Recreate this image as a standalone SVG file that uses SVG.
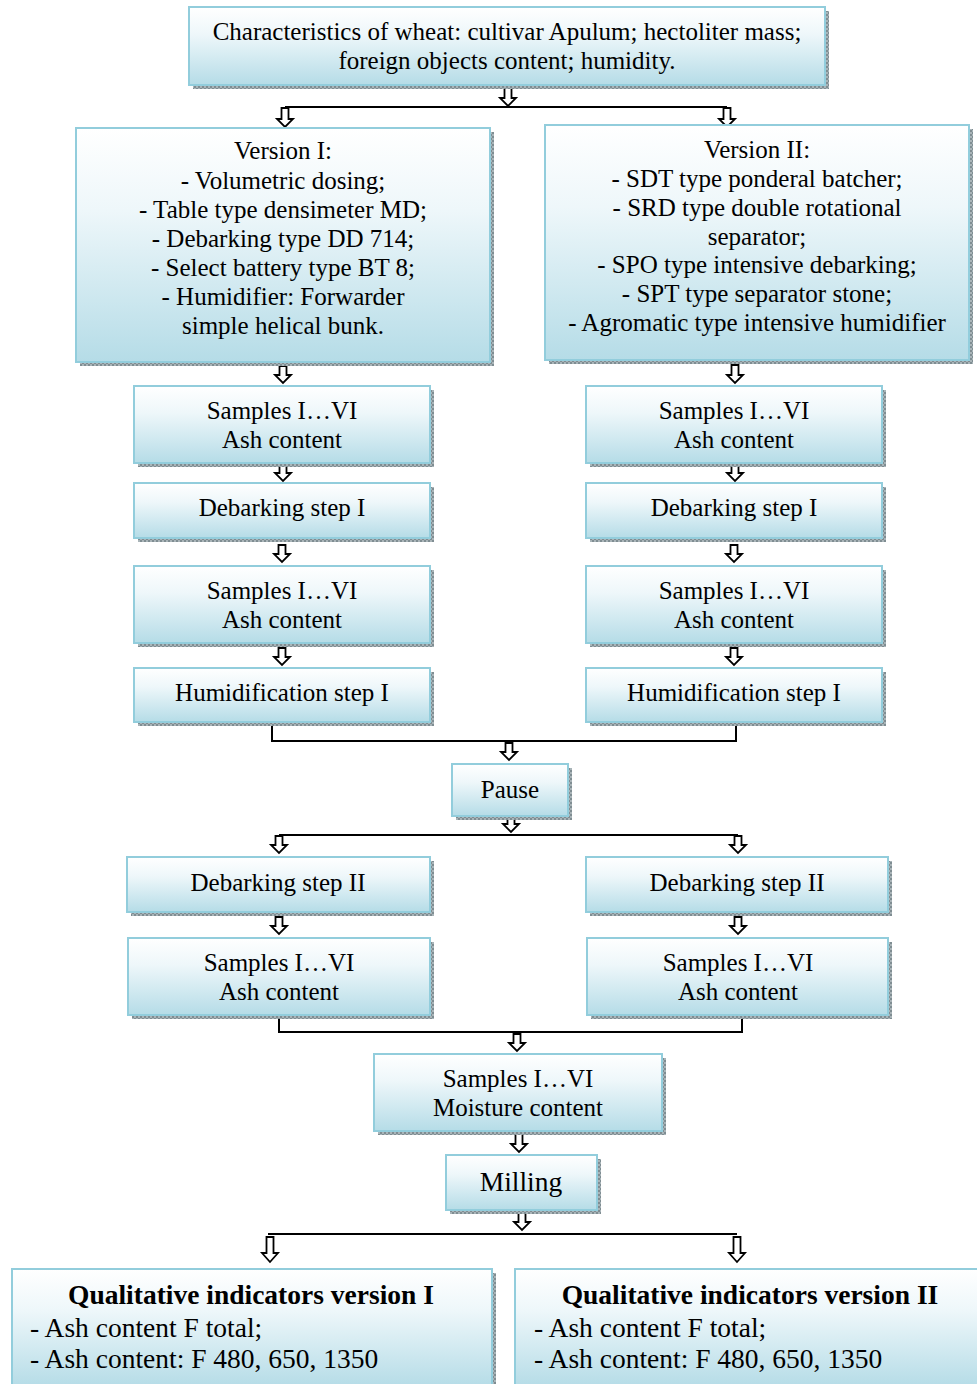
<svg xmlns="http://www.w3.org/2000/svg" width="977" height="1384" viewBox="0 0 977 1384">
<defs>
<linearGradient id="g" x1="0" y1="0" x2="0" y2="1">
<stop offset="0" stop-color="#ffffff"/>
<stop offset="0.35" stop-color="#eef7fa"/>
<stop offset="1" stop-color="#b5dce7"/>
</linearGradient>
<pattern id="sh" width="4" height="4" patternUnits="userSpaceOnUse">
<rect width="4" height="4" fill="#a9b4b8"/>
<rect width="2" height="2" fill="#7f8d92"/>
<rect x="2" y="2" width="2" height="2" fill="#7f8d92"/>
</pattern>
</defs>
<style>
.box{fill:url(#g);stroke:#92cddc;stroke-width:2}
.shadow{fill:url(#sh)}
text{font-family:"Liberation Serif","Times New Roman",serif;font-size:25px;fill:#000}
.c{text-anchor:middle}
.b{font-weight:bold;font-size:27.5px}
.l{font-size:27.5px}
.line{fill:none;stroke:#000;stroke-width:2}
.arr{fill:#fff;stroke:#000;stroke-width:1.8;stroke-linejoin:miter}
</style>
<rect width="977" height="1384" fill="#fff"/>

<g id="connectors">
<polyline class="line" points="285,107 727,107"/>
<polyline class="line" points="272,722 272,741 736,741 736,722"/>
<polyline class="line" points="279,835 738,835"/>
<polyline class="line" points="279,1015 279,1032 742,1032 742,1015"/>
<polyline class="line" points="268,1234 737,1234"/>
<path class="arr" d="M504.5 87h7v11h4.5l-8 8l-8-8h4.5z"/>
<path class="arr" d="M281.5 108h7v11h4.5l-8 8l-8-8h4.5z"/>
<path class="arr" d="M723.5 108h7v11h4.5l-8 8l-8-8h4.5z"/>
<path class="arr" d="M279.5 366h7v9h4.5l-8 8l-8-8h4.5z"/>
<path class="arr" d="M731.5 365h7v10h4.5l-8 8l-8-8h4.5z"/>
<path class="arr" d="M279.5 465h7v8h4.5l-8 8l-8-8h4.5z"/>
<path class="arr" d="M731.5 465h7v8h4.5l-8 8l-8-8h4.5z"/>
<path class="arr" d="M278.5 545h7v9h4.5l-8 8l-8-8h4.5z"/>
<path class="arr" d="M730.5 545h7v9h4.5l-8 8l-8-8h4.5z"/>
<path class="arr" d="M278.5 648h7v9h4.5l-8 8l-8-8h4.5z"/>
<path class="arr" d="M730.5 648h7v9h4.5l-8 8l-8-8h4.5z"/>
<path class="arr" d="M505.5 743h7v9h4.5l-8 8l-8-8h4.5z"/>
<path class="arr" d="M507.5 814h7v10h4.5l-8 8l-8-8h4.5z"/>
<path class="arr" d="M275.5 836h7v9h4.5l-8 8l-8-8h4.5z"/>
<path class="arr" d="M734.5 836h7v9h4.5l-8 8l-8-8h4.5z"/>
<path class="arr" d="M275.5 917h7v9h4.5l-8 8l-8-8h4.5z"/>
<path class="arr" d="M734.5 917h7v9h4.5l-8 8l-8-8h4.5z"/>
<path class="arr" d="M513.5 1034h7v9h4.5l-8 8l-8-8h4.5z"/>
<path class="arr" d="M515.5 1134h7v10h4.5l-8 8l-8-8h4.5z"/>
<path class="arr" d="M518.5 1213h7v9h4.5l-8 8l-8-8h4.5z"/>
<path class="arr" d="M266.5 1237h7v16h4.5l-8 9l-8-9h4.5z"/>
<path class="arr" d="M733.5 1237h7v16h4.5l-8 9l-8-9h4.5z"/>
</g>

<g id="n-top">
<rect class="shadow" x="193" y="11" width="636" height="78"/>
<rect class="box" x="189" y="7" width="636" height="78"/>
<text class="c" x="507" y="40">Characteristics of wheat: cultivar Apulum; hectoliter mass;</text>
<text class="c" x="507" y="69">foreign objects content; humidity.</text>
</g>

<g id="n-v1">
<rect class="shadow" x="80" y="132" width="414" height="234"/>
<rect class="box" x="76" y="128" width="414" height="234"/>
<text class="c" x="283" y="159">Version I:</text>
<text class="c" x="283" y="189">- Volumetric dosing;</text>
<text class="c" x="283" y="218">- Table type densimeter MD;</text>
<text class="c" x="283" y="247">- Debarking type DD 714;</text>
<text class="c" x="283" y="276">- Select battery type BT 8;</text>
<text class="c" x="283" y="305">- Humidifier: Forwarder</text>
<text class="c" x="283" y="334">simple helical bunk.</text>
</g>

<g id="n-v2">
<rect class="shadow" x="549" y="129" width="424" height="235"/>
<rect class="box" x="545" y="125" width="424" height="235"/>
<text class="c" x="757" y="158">Version II:</text>
<text class="c" x="757" y="187">- SDT type ponderal batcher;</text>
<text class="c" x="757" y="216">- SRD type double rotational</text>
<text class="c" x="757" y="245">separator;</text>
<text class="c" x="757" y="273">- SPO type intensive debarking;</text>
<text class="c" x="757" y="302">- SPT type separator stone;</text>
<text class="c" x="757" y="331">- Agromatic type intensive humidifier</text>
</g>

<g id="n-s1l">
<rect class="shadow" x="138" y="390" width="296" height="77"/>
<rect class="box" x="134" y="386" width="296" height="77"/>
<text class="c" x="282" y="419">Samples I…VI</text>
<text class="c" x="282" y="448">Ash content</text>
</g>
<g id="n-s1r">
<rect class="shadow" x="590" y="390" width="296" height="77"/>
<rect class="box" x="586" y="386" width="296" height="77"/>
<text class="c" x="734" y="419">Samples I…VI</text>
<text class="c" x="734" y="448">Ash content</text>
</g>

<g id="n-d1l">
<rect class="shadow" x="138" y="487" width="296" height="55"/>
<rect class="box" x="134" y="483" width="296" height="55"/>
<text class="c" x="282" y="516">Debarking step I</text>
</g>
<g id="n-d1r">
<rect class="shadow" x="590" y="487" width="296" height="55"/>
<rect class="box" x="586" y="483" width="296" height="55"/>
<text class="c" x="734" y="516">Debarking step I</text>
</g>

<g id="n-s2l">
<rect class="shadow" x="138" y="570" width="296" height="77"/>
<rect class="box" x="134" y="566" width="296" height="77"/>
<text class="c" x="282" y="599">Samples I…VI</text>
<text class="c" x="282" y="628">Ash content</text>
</g>
<g id="n-s2r">
<rect class="shadow" x="590" y="570" width="296" height="77"/>
<rect class="box" x="586" y="566" width="296" height="77"/>
<text class="c" x="734" y="599">Samples I…VI</text>
<text class="c" x="734" y="628">Ash content</text>
</g>

<g id="n-h1l">
<rect class="shadow" x="138" y="672" width="296" height="54"/>
<rect class="box" x="134" y="668" width="296" height="54"/>
<text class="c" x="282" y="701">Humidification step I</text>
</g>
<g id="n-h1r">
<rect class="shadow" x="590" y="672" width="296" height="54"/>
<rect class="box" x="586" y="668" width="296" height="54"/>
<text class="c" x="734" y="701">Humidification step I</text>
</g>

<g id="n-pause">
<rect class="shadow" x="456" y="768" width="116" height="52"/>
<rect class="box" x="452" y="764" width="116" height="52"/>
<text class="c" x="510" y="798">Pause</text>
</g>

<g id="n-d2l">
<rect class="shadow" x="131" y="861" width="303" height="55"/>
<rect class="box" x="127" y="857" width="303" height="55"/>
<text class="c" x="278" y="891">Debarking step II</text>
</g>
<g id="n-d2r">
<rect class="shadow" x="590" y="861" width="302" height="55"/>
<rect class="box" x="586" y="857" width="302" height="55"/>
<text class="c" x="737" y="891">Debarking step II</text>
</g>

<g id="n-s3l">
<rect class="shadow" x="132" y="942" width="302" height="77"/>
<rect class="box" x="128" y="938" width="302" height="77"/>
<text class="c" x="279" y="971">Samples I…VI</text>
<text class="c" x="279" y="1000">Ash content</text>
</g>
<g id="n-s3r">
<rect class="shadow" x="591" y="942" width="301" height="77"/>
<rect class="box" x="587" y="938" width="301" height="77"/>
<text class="c" x="738" y="971">Samples I…VI</text>
<text class="c" x="738" y="1000">Ash content</text>
</g>

<g id="n-moist">
<rect class="shadow" x="378" y="1058" width="288" height="77"/>
<rect class="box" x="374" y="1054" width="288" height="77"/>
<text class="c" x="518" y="1087">Samples I…VI</text>
<text class="c" x="518" y="1116">Moisture content</text>
</g>

<g id="n-mill">
<rect class="shadow" x="450" y="1159" width="151" height="55"/>
<rect class="box" x="446" y="1155" width="151" height="55"/>
<text class="c l" x="521" y="1191">Milling</text>
</g>

<g id="n-q1">
<rect class="shadow" x="16" y="1273" width="480" height="115"/>
<rect class="box" x="12" y="1269" width="480" height="118"/>
<text class="c b" x="251" y="1304">Qualitative indicators version I</text>
<text class="l" x="30" y="1337">- Ash content F total;</text>
<text class="l" x="30" y="1368">- Ash content: F 480, 650, 1350</text>
</g>

<g id="n-q2">
<rect class="box" x="515" y="1269" width="470" height="118"/>
<text class="c b" x="750" y="1304">Qualitative indicators version II</text>
<text class="l" x="534" y="1337">- Ash content F total;</text>
<text class="l" x="534" y="1368">- Ash content: F 480, 650, 1350</text>
</g>
</svg>
